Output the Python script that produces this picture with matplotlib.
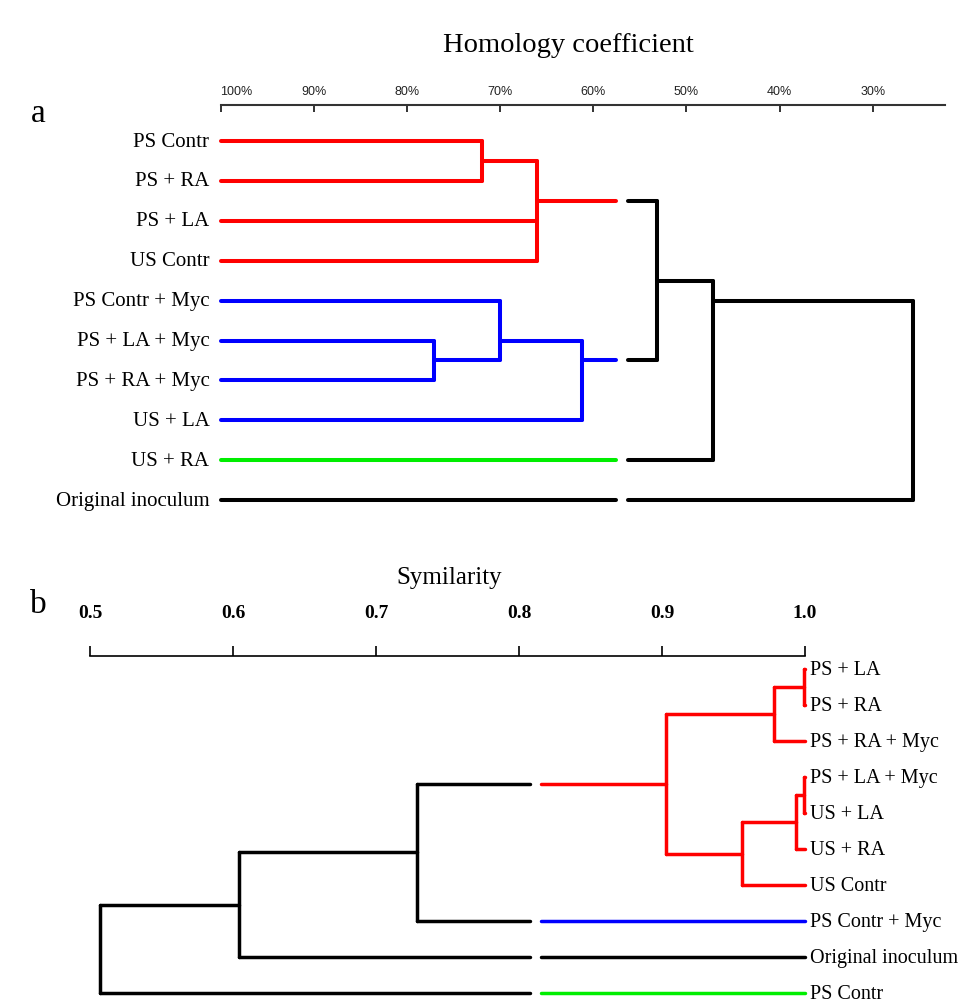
import numpy as np
import matplotlib
matplotlib.use('Agg')
import matplotlib.pyplot as plt

plt.rcParams['font.family'] = ['Liberation Serif', 'DejaVu Serif']

# --- panel a : homology coefficient (%) ---
a_labels = ['PS Contr', 'PS + RA', 'PS + LA', 'US Contr', 'PS Contr + Myc',
            'PS + LA + Myc', 'PS + RA + Myc', 'US + LA', 'US + RA',
            'Original inoculum']
a_groups = ['r', 'r', 'r', 'r', 'b', 'b', 'b', 'b', 'g', 'k']
# (children, level) ; new node ids continue after the leaves
a_merges = [([0, 1], 71.9),
            ([10, 2, 3], 66.0),
            ([5, 6], 77.1),
            ([4, 12], 70.0),
            ([13, 7], 61.2),
            ([11, 14], 53.2),
            ([15, 8], 47.2),
            ([16, 9], 25.7)]
a_ticks = [100, 90, 80, 70, 60, 50, 40, 30]
a_tick_labels = ['100%', '90%', '80%', '70%', '60%', '50%', '40%', '30%']

# --- panel b : similarity ---
b_labels = ['PS + LA', 'PS + RA', 'PS + RA + Myc', 'PS + LA + Myc', 'US + LA',
            'US + RA', 'US Contr', 'PS Contr + Myc', 'Original inoculum',
            'PS Contr']
b_groups = ['r', 'r', 'r', 'r', 'r', 'r', 'r', 'b', 'k', 'g']
b_merges = [([0, 1], 0.999),
            ([10, 2], 0.978),
            ([3, 4], 0.999),
            ([12, 5], 0.994),
            ([13, 6], 0.956),
            ([11, 14], 0.903),
            ([15, 7], 0.729),
            ([16, 8], 0.604),
            ([17, 9], 0.507)]
b_ticks = [0.5, 0.6, 0.7, 0.8, 0.9, 1.0]
b_tick_labels = ['0.5', '0.6', '0.7', '0.8', '0.9', '1.0']

COLORS = {'r': '#ff0000', 'b': '#0000ff', 'g': '#00ee00', 'k': 'black'}


def draw_tree(ax, groups, merges, leaf_h, cut_hi, cut_lo, lw, node_y='leaves'):
    """draw a dendrogram, coloured on the leaf side of the cut, black beyond it"""
    n = len(groups)
    ypos = {i: float(i) for i in range(n)}
    height = {i: leaf_h for i in range(n)}
    members = {i: [i] for i in range(n)}
    parent = {}
    for k, (kids, h) in enumerate(merges):
        nid = n + k
        height[nid] = h
        members[nid] = sum((members[c] for c in kids), [])
        if node_y == 'leaves':
            ypos[nid] = np.mean([ypos[i] for i in members[nid]])
        else:
            ypos[nid] = np.mean([ypos[c] for c in kids])
        for c in kids:
            parent[c] = nid

    cut = (cut_hi + cut_lo) / 2.0

    def col(node):
        if height[node] > cut:
            return COLORS[groups[members[node][0]]]
        return 'black'

    kw = dict(lw=lw, solid_capstyle='round')
    # horizontal branches
    for node, p in parent.items():
        y = ypos[node]
        h0, h1 = height[node], height[p]
        if h1 > cut:
            ax.plot([h0, h1], [y, y], color=col(node), **kw)
        elif h0 < cut:
            ax.plot([h0, h1], [y, y], color='black', **kw)
        else:
            ax.plot([h0, cut_hi], [y, y], color=col(node), **kw)
            ax.plot([cut_lo, h1], [y, y], color='black', **kw)
    # vertical joins
    for k, (kids, h) in enumerate(merges):
        ys = [ypos[c] for c in kids]
        ax.plot([h, h], [min(ys), max(ys)], color=col(n + k), **kw)


fig = plt.figure(figsize=(9.78, 10.03), dpi=100)

# ---------------- panel a ----------------
ax = fig.add_axes([0, 0.4616, 1, 0.5384])
ax.set_xlim(123.66, 18.72)
ax.set_ylim(9.975, -3.559)
draw_tree(ax, a_groups, a_merges, 100, 57.55, 56.3, 2.9, node_y='leaves')
for i, lab in enumerate(a_labels):
    ax.annotate(lab, (100, i), xytext=(-8, 0), textcoords='offset points',
                ha='right', va='center', fontsize=15)

for s in ['left', 'right', 'bottom']:
    ax.spines[s].set_visible(False)
ax.spines['top'].set_position(('data', -0.9))
ax.spines['top'].set_bounds(100, 22.3)
ax.spines['top'].set_linewidth(1.5)
ax.spines['top'].set_color('#333333')
ax.xaxis.tick_top()
ax.set_xticks(a_ticks, a_tick_labels)
ax.set_yticks([])
ax.tick_params(axis='x', direction='in', length=5, width=1.3, pad=6,
               labelsize=9, colors='#222222', labelfontfamily='Liberation Sans')
ax.xaxis.get_major_ticks()[0].label2.set_horizontalalignment('left')
ax.text(62.7, -2.43, 'Homology coefficient', ha='center', va='center',
        fontsize=20.5)
ax.text(119.6, -0.7, 'a', ha='center', va='center', fontsize=24)

# ---------------- panel b ----------------
bx = fig.add_axes([0, 0, 1, 0.4616])
bx.set_xlim(0.4371, 1.121)
bx.set_ylim(9.25, -3.611)
draw_tree(bx, b_groups, b_merges, 1.0, 0.8154, 0.8077, 2.5, node_y='children')
for i, lab in enumerate(b_labels):
    bx.annotate(lab, (1.0, i), xytext=(3.5, 0), textcoords='offset points',
                ha='left', va='center', fontsize=14.5)

for s in ['left', 'right', 'bottom']:
    bx.spines[s].set_visible(False)
bx.spines['top'].set_position(('data', -0.36))
bx.spines['top'].set_bounds(0.5, 1.0)
bx.spines['top'].set_linewidth(1.2)
bx.xaxis.tick_top()
bx.set_xticks(b_ticks, b_tick_labels, fontweight='bold', fontsize=14)
bx.set_yticks([])
bx.tick_params(axis='x', direction='out', length=7, width=1.2, pad=18)
bx.text(0.751, -2.56, 'Symilarity', ha='center', va='center', fontsize=18)
bx.text(0.4636, -1.81, 'b', ha='center', va='center', fontsize=24)

fig.savefig('out.png', dpi=100)
